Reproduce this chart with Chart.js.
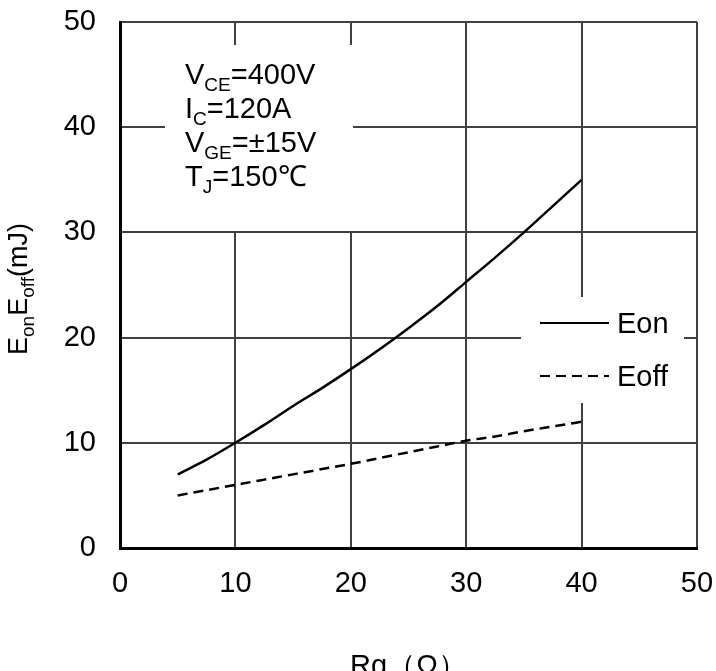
<!DOCTYPE html>
<html>
<head>
<meta charset="utf-8">
<script src="https://cdn.jsdelivr.net/npm/chart.js@4"></script>
<style>
  html, body { margin: 0; padding: 0; background: #fff; overflow: hidden; }
  #wrap { width: 716px; height: 671px; overflow: hidden; }
</style>
</head>
<body>
<div id="wrap"><canvas id="c" width="716" height="700"></canvas></div>
<script>
// Rg (ohm) sample points
const rgValues = [5, 7.5, 10, 12.5, 15, 17.5, 20, 22.5, 25, 27.5, 30, 32.5, 35, 37.5, 40];
// switching energies (mJ)
const eonValues = [7.0, 8.4, 10.0, 11.7, 13.5, 15.2, 17.0, 18.9, 20.9, 23.0, 25.3, 27.6, 30.0, 32.5, 35.0];
const eoffValues = [5.0, 5.5, 6.0, 6.5, 7.0, 7.5, 8.0, 8.55, 9.1, 9.65, 10.2, 10.6, 11.1, 11.55, 12.0];
const xTicks = [0, 10, 20, 30, 40, 50];
const yTicks = [0, 10, 20, 30, 40, 50];
const seriesNames = ['Eon', 'Eoff'];
const conditionLines = [
  [['V', 'n'], ['CE', 's'], ['=400V', 'n']],
  [['I', 'n'], ['C', 's'], ['=120A', 'n']],
  [['V', 'n'], ['GE', 's'], ['=±15V', 'n']],
  [['T', 'n'], ['J', 's'], ['=150℃', 'n']]
];
const yTitleParts = [['E', 'n'], ['on', 's'], ['E', 'n'], ['off', 's'], ['(mJ)', 'n']];

const FONT = 'Arial, "Liberation Sans", sans-serif';
const MAIN = 29, SUB = 19;

function toXY(xs, ys){ return xs.map((x, i) => ({x: x, y: ys[i]})); }

// draws a run of normal/subscript pieces starting at x, baseline y
function drawRich(ctx, parts, x, y, size){
  for(const [t, kind] of parts){
    const sub = kind === 's';
    ctx.font = (sub ? SUB : size) + 'px ' + FONT;
    ctx.fillText(t, x, sub ? y + 7 : y);
    x += ctx.measureText(t).width;
  }
  return x;
}
function richWidth(ctx, parts, size){
  let w = 0;
  for(const [t, kind] of parts){
    ctx.font = (kind === 's' ? SUB : size) + 'px ' + FONT;
    w += ctx.measureText(t).width;
  }
  return w;
}

const annotations = {
  id: 'annotations',
  beforeDatasetsDraw(chart){
    const ctx = chart.ctx;
    ctx.save();
    ctx.fillStyle = '#fff';
    // box behind the test conditions
    ctx.fillRect(165, 45, 188, 186);
    // box behind the legend
    ctx.fillRect(521, 297, 163, 106);
    ctx.restore();
  },
  afterDatasetsDraw(chart){
    const ctx = chart.ctx;
    ctx.save();
    ctx.fillStyle = '#000';
    ctx.textBaseline = 'alphabetic';
    ctx.textAlign = 'left';
    conditionLines.forEach((ln, i) => drawRich(ctx, ln, 185, 84 + i * 34, MAIN));

    // legend
    const ds = chart.data.datasets;
    const rows = [323, 376];
    rows.forEach((yy, i) => {
      ctx.strokeStyle = '#000';
      ctx.lineWidth = 2;
      ctx.setLineDash(ds[i].borderDash || []);
      ctx.beginPath();
      ctx.moveTo(540, yy);
      ctx.lineTo(609, yy);
      ctx.stroke();
      ctx.setLineDash([]);
      ctx.font = MAIN + 'px ' + FONT;
      ctx.fillText(ds[i].label, 617, yy + 10);
    });

    // y axis title with subscripts
    ctx.translate(27, 289);
    ctx.rotate(-Math.PI / 2);
    const w = richWidth(ctx, yTitleParts, 27);
    drawRich(ctx, yTitleParts, -w / 2, 0, 27);
    ctx.restore();
  }
};

new Chart(document.getElementById('c'), {
  type: 'line',
  data: {
    datasets: [
      {
        label: seriesNames[0],
        data: toXY(rgValues, eonValues),
        borderColor: '#000', borderWidth: 2.5,
        pointRadius: 0, cubicInterpolationMode: 'monotone', fill: false
      },
      {
        label: seriesNames[1],
        data: toXY(rgValues, eoffValues),
        borderColor: '#000', borderWidth: 2.5, borderDash: [10, 6],
        pointRadius: 0, cubicInterpolationMode: 'monotone', fill: false
      }
    ]
  },
  options: {
    responsive: false,
    animation: false,
    events: [],
    layout: { padding: { left: 0, right: 19, top: 22, bottom: 0 } },
    plugins: { legend: { display: false }, tooltip: { enabled: false } },
    scales: {
      x: {
        type: 'linear', min: 0, max: 50,
        afterBuildTicks: s => { s.ticks = xTicks.map(v => ({value: v})); },
        afterFit: s => { s.height = 152; s.paddingLeft = 0; s.paddingRight = 0; },
        grid: { color: '#404040', lineWidth: 2, drawTicks: false },
        border: { color: '#000', width: 3 },
        ticks: { color: '#000', padding: 19, font: { family: FONT, size: MAIN }, maxRotation: 0 },
        title: { display: true, text: 'Rg（Ω）', color: '#000',
                 font: { family: FONT, size: MAIN }, padding: { top: 0, bottom: 16 } }
      },
      y: {
        type: 'linear', min: 0, max: 50,
        afterBuildTicks: s => { s.ticks = yTicks.map(v => ({value: v})); },
        afterFit: s => { s.width = 120; s.paddingTop = 0; s.paddingBottom = 0; },
        grid: { color: '#404040', lineWidth: 2, drawTicks: false },
        border: { color: '#000', width: 3 },
        ticks: { color: '#000', padding: 24, font: { family: FONT, size: MAIN } }
      }
    }
  },
  plugins: [annotations]
});
</script>
</body>
</html>
